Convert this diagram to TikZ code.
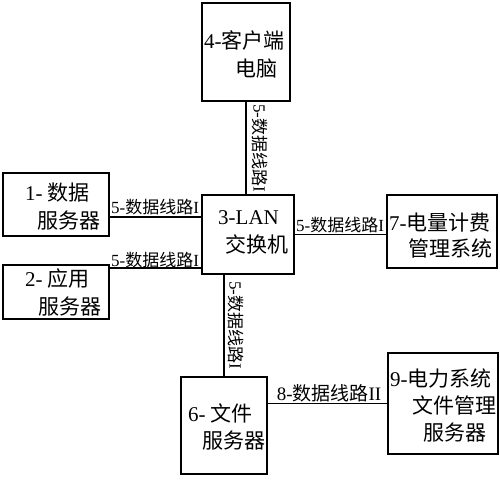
\documentclass[tikz,border=0pt]{standalone}
\usepackage{fontspec}
\setmainfont{Liberation Serif}
\newfontfamily\cjk{Noto Sans CJK SC}
\newcommand\zhs[1]{{\cjk #1}}
\begin{document}
\begin{tikzpicture}[x=1pt,y=-1pt,
  box/.style={draw,line width=1.2pt,rectangle,inner sep=0pt},
  txt/.style={anchor=west,align=left,inner sep=0pt,font=\fontsize{21}{28}\selectfont},
  lbl/.style={inner sep=0pt,font=\fontsize{17}{19}\selectfont},
  link/.style={line width=1.2pt}]
\useasboundingbox (0,0) rectangle (500,479);
% boxes
\node[box,minimum width=88pt,minimum height=98pt] (b4) at (246,52) {};
\node[box,minimum width=106pt,minimum height=63pt] (b1) at (56,204.5) {};
\node[box,minimum width=106pt,minimum height=54pt] (b2) at (56,292) {};
\node[box,minimum width=92pt,minimum height=79pt] (b3) at (248,234.5) {};
\node[box,minimum width=110pt,minimum height=73pt] (b7) at (442,231.5) {};
\node[box,minimum width=86pt,minimum height=97pt] (b6) at (224,425.5) {};
\node[box,minimum width=110pt,minimum height=101pt] (b9) at (443,403.5) {};
% box texts
\node[txt] (t4) at (204,54) {4-\zhs{客户端}\\\hspace*{31pt}\zhs{电脑}};
\node[txt] (t1) at (25,207) {1- \zhs{数据}\\\hspace*{12pt}\zhs{服务器}};
\node[txt] (t2) at (25,292.5) {2- \zhs{应用}\\\hspace*{13pt}\zhs{服务器}};
\node[txt] (t3) at (218,232) {3-LAN\\\hspace*{7pt}\zhs{交换机}};
\node[txt,font=\fontsize{21}{26}\selectfont] (t7) at (389,236) {7-\zhs{电量计费}\\\hspace*{19pt}\zhs{管理系统}};
\node[txt,font=\fontsize{21}{27}\selectfont] (t6) at (188,426.5) {6- \zhs{文件}\\\hspace*{14pt}\zhs{服务器}};
\node[txt,font=\fontsize{21}{27}\selectfont] (t9) at (390,405) {9-\zhs{电力系统}\\\hspace*{22pt}\zhs{文件管理}\\\hspace*{33pt}\zhs{服务器}};
% connectors
\draw[link] (b4.south) -- (b4.south |- b3.north);
\draw[link] ([yshift=-12.5pt]b1.east) -- ([yshift=-12.5pt]b1.east -| b3.west);
\draw[link] ([yshift=24pt]b2.east) -- ([yshift=24pt]b2.east -| b3.west);
\draw[link] (b3.east) -- (b3.east -| b7.west);
\draw[link] (b6.north |- b3.south) -- (b6.north);
\draw[link] (b9.west -| b6.east) -- (b9.west);
% connector labels
\node[lbl] (l13) at (155,207) {5-\zhs{数据线路}I};
\node[lbl] (l23) at (155,260) {5-\zhs{数据线路}I};
\node[lbl] (l37) at (340,225) {5-\zhs{数据线路}I};
\node[lbl,rotate=-90] (l43) at (260,148) {5-\zhs{数据线路}I};
\node[lbl,rotate=-90] (l36) at (236,325) {5-\zhs{数据线路}I};
\node[lbl,font=\fontsize{19}{21}\selectfont] (l69) at (329,393) {8-\zhs{数据线路}II};
\end{tikzpicture}
\end{document}
